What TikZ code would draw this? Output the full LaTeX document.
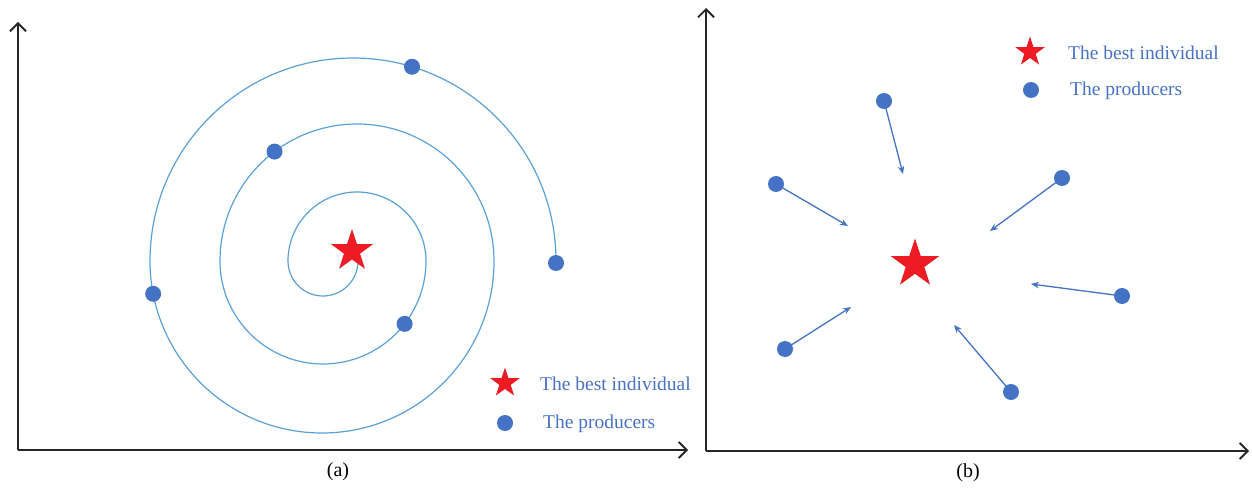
\documentclass[tikz,border=0pt]{standalone}
\usepackage{fontspec}
\setmainfont{Liberation Serif}
\usetikzlibrary{arrows.meta,shapes.geometric}
\definecolor{dotblue}{RGB}{68,114,196}
\definecolor{spiralblue}{RGB}{91,160,215}
\definecolor{starred}{RGB}{237,28,36}
\definecolor{txtblue}{RGB}{72,114,196}
\begin{document}
\begin{tikzpicture}[x=1pt,y=1pt,
  axis/.style={line width=1.8pt, black!85, -{Straight Barb[length=8pt,width=16pt,line width=1.8pt]}},
  dot/.style={circle, fill=dotblue, inner sep=0pt, minimum size=16pt},
  beststar/.style={star, star points=5, star point ratio=2.6, fill=starred, draw=none, inner sep=0pt, minimum size=#1},
  legtext/.style={anchor=west, text=txtblue, font=\fontsize{19.5}{21}\selectfont, inner sep=0pt},
  caption/.style={font=\fontsize{20}{22}\selectfont, inner sep=0pt},
  move/.style={line width=1.3pt, dotblue, -{Stealth[length=8pt,width=6.5pt]}},
  spiral/.style={line width=1.2pt, spiralblue}]
\useasboundingbox (0,0) rectangle (1252,-494);

% ---------- panel (a) ----------
\coordinate (oa) at (18,-450);
\coordinate (ya) at (18,-22);
\coordinate (xa) at (688,-450);
\draw[axis] (oa) -- (ya);
\draw[axis] (oa) -- (xa);

\draw[spiral] (358,-261) arc (0:-180:35) arc (180:0:69) arc (0:-180:103)
  arc (180:0:137) arc (0:-180:172) arc (180:0:203);

\node[beststar=44pt] (sa) at (352,-251) {};
\node[dot] (pa1) at ([shift={(353,-261)}]73.1:203) {};
\node[dot] (pa2) at ([shift={(357,-261)}]127:137) {};
\node[dot] (pa3) at ([shift={(322,-261)}]191:172) {};
\node[dot] (pa4) at ([shift={(323,-261)}]-37.6:103) {};
\node[dot] (pa5) at (556,-263) {};

\node[beststar=31pt] (lsa) at (505,-383) {};
\node[legtext] (lta) at (540,-384) {The best individual};
\node[dot] (lda) at (505,-423) {};
\node[legtext] (lpa) at (543,-424) {The producers};

\node[caption] (ca) at (338,-472) {(a)};

% ---------- panel (b) ----------
\coordinate (ob) at (706,-451);
\coordinate (yb) at (706,-8);
\coordinate (xb) at (1249,-451);
\draw[axis] (ob) -- (yb);
\draw[axis] (ob) -- (xb);

\node[beststar=51pt] (sb) at (915,-264) {};

\node[dot] (pb1) at (884,-101) {};
\node[dot] (pb2) at (776,-184) {};
\node[dot] (pb3) at (1062,-178) {};
\node[dot] (pb4) at (1122,-296) {};
\node[dot] (pb5) at (1011,-392) {};
\node[dot] (pb6) at (785,-349) {};

\coordinate (eb1) at (903,-174);
\coordinate (eb2) at (848,-226);
\coordinate (eb3) at (990,-231);
\coordinate (eb4) at (1031,-284);
\coordinate (eb5) at (954,-325);
\coordinate (eb6) at (851,-307);

\draw[move] (pb1.center) -- (eb1);
\draw[move] (pb2.center) -- (eb2);
\draw[move] (pb3.center) -- (eb3);
\draw[move] (pb4.center) -- (eb4);
\draw[move] (pb5.center) -- (eb5);
\draw[move] (pb6.center) -- (eb6);

\node[beststar=31pt] (lsb) at (1030,-52) {};
\node[legtext] (ltb) at (1068,-53) {The best individual};
\node[dot] (ldb) at (1031,-90) {};
\node[legtext] (lpb) at (1070,-91) {The producers};

\node[caption] (cb) at (968,-473) {(b)};
\end{tikzpicture}
\end{document}
